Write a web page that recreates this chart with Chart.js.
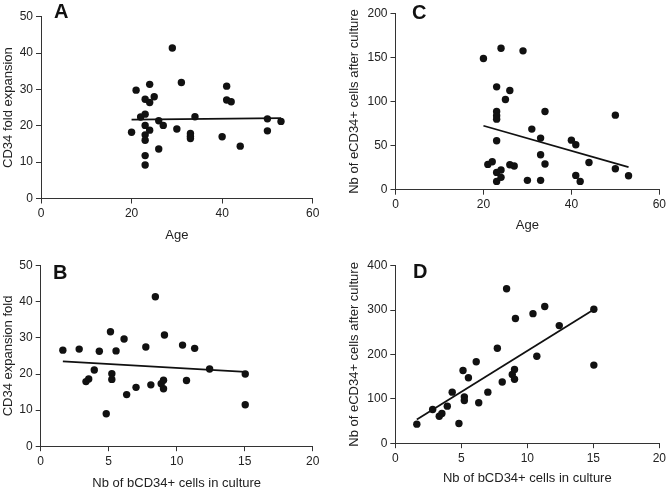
<!DOCTYPE html>
<html>
<head>
<meta charset="utf-8">
<script src="https://cdn.jsdelivr.net/npm/chart.js@4/dist/chart.umd.min.js"></script>
<style>
html,body{margin:0;padding:0;background:#fff;}
#wrap{position:relative;width:669px;height:491px;overflow:hidden;background:#fff;}
#wrap canvas{position:absolute;left:0;top:0;width:669px;height:491px;}
</style>
</head>
<body>
<div id="wrap">
<canvas id="cA" width="669" height="491"></canvas>
<canvas id="cB" width="669" height="491"></canvas>
<canvas id="cC" width="669" height="491"></canvas>
<canvas id="cD" width="669" height="491"></canvas>
</div>
<script>
// ---- Panel A: CD34 fold expansion vs Age ----
const ageA  = [20,21,22,23,23,23,23,23,23,23,24,24,24,25,26,26,27,29,30,31,33,33,33,34,40,41,41,42,44,50,50,53];
const foldA = [18.2,29.8,22.4,27.3,23.2,20.1,17.5,16.0,11.8,9.2,31.4,26.4,18.8,28.0,21.4,13.6,20.1,41.4,19.1,31.9,17.9,17.1,16.5,22.5,17.0,30.9,27.1,26.6,14.4,21.9,18.6,21.2];
const fitAgeA  = [20, 53];
const fitFoldA = [21.7, 22.1];

// ---- Panel C: Nb of eCD34+ cells after culture vs Age ----
const ageC   = [20,21,22,23,23,23,23,23,23,23,24,24,24,25,26,26,27,29,30,31,33,33,33,34,34,40,41,41,42,44,50,50,53];
const eCD34C = [148.7,28.7,31.7,116.6,88.7,83.8,80,55.5,19.6,9.4,160.4,22.3,14,102.3,112.5,28.3,26.8,157.4,10.6,68.7,58.5,39.6,10.6,88.7,29.1,56.2,50.9,16.2,9.4,30.9,84.5,23.8,15.8];
const fitAgeC   = [20, 53];
const fitECD34C = [72.5, 25.7];

// ---- Panels B and D: vs Nb of bCD34+ cells in culture ----
const bCD34  = [1.63,2.83,3.33,3.53,3.94,4.31,4.82,5.13,5.23,5.23,5.54,6.13,6.32,7.01,7.73,8.1,8.43,8.86,9.03,9.03,9.1,10.43,10.72,11.32,12.42,15.04,15.04];
const foldB  = [26.6,26.9,17.9,18.6,21.1,26.3,9.0,31.7,20.1,18.5,26.4,29.7,14.3,16.3,27.5,17.0,41.4,17.3,18.3,15.9,30.8,28.0,18.2,27.1,21.4,20.0,11.5];
const eCD34D = [42.9,75.9,60.9,66.9,83.5,115,44.4,164,104.5,96.2,147.4,183.5,91,115,214,138,348,155,166,144,281,292,196,308,265,302,176];
const fitBCD34  = [1.63, 15.04];
const fitFoldB  = [23.5, 20.6];
const fitECD34D = [53.4, 301.5];

// ---- Tick settings ----
const ageTicks   = {min:0, max:60, step:20};
const bcdTicks   = {min:0, max:20, step:5};
const foldTicks  = {min:0, max:50, step:10};
const eAgeTicks  = {min:0, max:200, step:50};
const eBcdTicks  = {min:0, max:400, step:100};

const W = 669, H = 491;
const FONT = "'Liberation Sans', Arial, Helvetica, sans-serif";
Chart.defaults.font.family = FONT;
Chart.defaults.color = '#222';

const toPts = (xs, ys) => xs.map((x, i) => ({x: x, y: ys[i]}));

const letterPlugin = {
  id: 'panelLetter',
  afterDraw(chart, args, opts) {
    const ctx = chart.ctx;
    ctx.save();
    ctx.font = 'bold 20px ' + FONT;
    ctx.fillStyle = '#111';
    ctx.textAlign = 'left';
    ctx.textBaseline = 'alphabetic';
    ctx.fillText(opts.text, opts.x, opts.y);
    ctx.restore();
  }
};

function axis(t, title, fixedSize, titlePad, horizontal) {
  return {
    type: 'linear',
    position: horizontal ? 'bottom' : 'left',
    min: t.min, max: t.max,
    ticks: {stepSize: t.step, font: {size: 12}, color: '#222', padding: 3},
    grid: {drawOnChartArea: false, drawTicks: true, tickLength: 5, color: '#333', lineWidth: 1},
    border: {display: true, color: '#333', width: 1},
    title: {display: true, text: title, font: {size: 13}, color: '#222',
            padding: horizontal ? {top: 0, bottom: titlePad} : {top: titlePad, bottom: 0}},
    afterFit(scale) {
      if (horizontal) scale.height = fixedSize; else scale.width = fixedSize;
    }
  };
}

function panel(cfg) {
  const lh = 13 * 1.2;
  const a = cfg.area;
  const boxBottom = Math.min(H, cfg.xTitleY + lh / 2 + 2);
  const xPad = Math.max(0, boxBottom - cfg.xTitleY - lh / 2);
  new Chart(document.getElementById(cfg.id), {
    data: {
      datasets: [
        {type: 'scatter', data: toPts(cfg.xs, cfg.ys), backgroundColor: '#111',
         pointRadius: 3.7, pointHoverRadius: 3.7, borderWidth: 0, order: 1},
        {type: 'line', data: toPts(cfg.fx, cfg.fy), borderColor: '#111', borderWidth: 1.8,
         pointRadius: 0, fill: false, tension: 0, order: 2}
      ]
    },
    options: {
      responsive: false, animation: false, devicePixelRatio: 1,
      events: [],
      layout: {padding: {left: 0, top: a.t, right: W - a.r, bottom: H - boxBottom}},
      scales: {
        x: axis(cfg.xt, cfg.xTitle, boxBottom - a.b, xPad, true),
        y: axis(cfg.yt, cfg.yTitle, a.l, cfg.yTitleX - lh / 2, false)
      },
      plugins: {
        legend: {display: false},
        tooltip: {enabled: false},
        panelLetter: {text: cfg.letter, x: cfg.letterX, y: cfg.letterY}
      }
    },
    plugins: [letterPlugin]
  });
}

panel({id: 'cA', letter: 'A', xs: ageA, ys: foldA, fx: fitAgeA, fy: fitFoldA,
  xt: ageTicks, yt: foldTicks, xTitle: 'Age', yTitle: 'CD34 fold expansion',
  area: {l: 41, t: 16.7, r: 312.7, b: 198.5}, yTitleX: 8, xTitleY: 235, letterX: 54, letterY: 17.5});
panel({id: 'cC', letter: 'C', xs: ageC, ys: eCD34C, fx: fitAgeC, fy: fitECD34C,
  xt: ageTicks, yt: eAgeTicks, xTitle: 'Age', yTitle: 'Nb of eCD34+ cells after culture',
  area: {l: 395.5, t: 13.3, r: 661, b: 189.7}, yTitleX: 354.5, xTitleY: 225.7, letterX: 412, letterY: 18.5});
panel({id: 'cB', letter: 'B', xs: bCD34, ys: foldB, fx: fitBCD34, fy: fitFoldB,
  xt: bcdTicks, yt: foldTicks, xTitle: 'Nb of bCD34+ cells in culture', yTitle: 'CD34 expansion fold',
  area: {l: 40.7, t: 265.7, r: 312.7, b: 446.2}, yTitleX: 8, xTitleY: 483.3, letterX: 53, letterY: 278.5});
panel({id: 'cD', letter: 'D', xs: bCD34, ys: eCD34D, fx: fitBCD34, fy: fitECD34D,
  xt: bcdTicks, yt: eBcdTicks, xTitle: 'Nb of bCD34+ cells in culture', yTitle: 'Nb of eCD34+ cells after culture',
  area: {l: 395.3, t: 265.7, r: 661, b: 443.2}, yTitleX: 354.5, xTitleY: 478.3, letterX: 413, letterY: 278.3});
</script>
</body>
</html>
